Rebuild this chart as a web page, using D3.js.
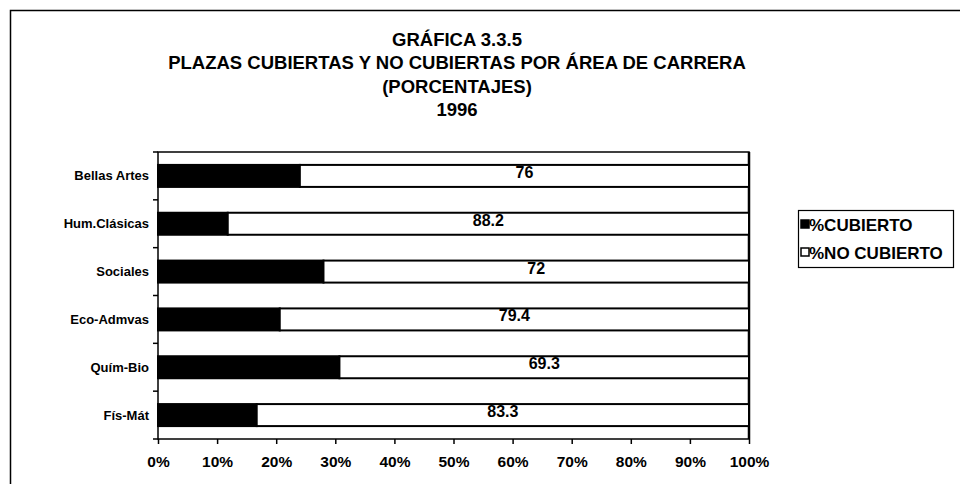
<!DOCTYPE html>
<html><head><meta charset="utf-8">
<script src="https://cdn.jsdelivr.net/npm/d3@7"></script>
<style>body{margin:0;background:#fff}svg{display:block}text{font-family:"Liberation Sans",Arial,sans-serif;font-weight:bold;fill:#000}</style>
</head><body><svg id="c" width="960" height="484"></svg>
<script>
const categories = ["Bellas Artes","Hum.Clásicas","Sociales","Eco-Admvas","Quím-Bio","Fís-Mát"];
const cubierto = [24, 11.8, 28, 20.6, 30.7, 16.7];
const noCubierto = [76, 88.2, 72, 79.4, 69.3, 83.3];
const xTicks = [0,10,20,30,40,50,60,70,80,90,100];
const titleLines = ["GRÁFICA 3.3.5","PLAZAS CUBIERTAS Y NO CUBIERTAS POR ÁREA DE CARRERA","(PORCENTAJES)","1996"];
const seriesNames = ["%CUBIERTO","%NO CUBIERTO"];

const svg = d3.select("#c");
// outer frame
svg.append("path").attr("d","M10.5,490 L10.5,10.5 L970,10.5").attr("fill","none").attr("stroke","#000").attr("stroke-width",1.5);

const titleY = [46,69,93,116];
svg.selectAll("text.title").data(titleLines).join("text").attr("class","title")
  .attr("x",457).attr("y",(d,i)=>titleY[i]).attr("text-anchor","middle").style("font-size","18.5px").text(d=>d);

const L=158, R=749, T=152, B=439;
const x = d3.scaleLinear().domain([0,100]).range([L,R]);
const y = d3.scaleBand().domain(categories).range([T,B]).paddingInner(0.54).paddingOuter(0.27);

const g = svg.append("g");
// plot frame
g.append("rect").attr("x",L).attr("y",T).attr("width",R-L).attr("height",B-T).attr("fill","none").attr("stroke","#000").attr("stroke-width",1.5);
g.append("line").attr("x1",R).attr("x2",R).attr("y1",T).attr("y2",B).attr("stroke","#000").attr("stroke-width",2.5);

const rows = categories.map((c,i)=>({c, a:cubierto[i], b:noCubierto[i]}));
g.selectAll("rect.a").data(rows).join("rect").attr("class","a")
  .attr("x",x(0)).attr("y",d=>y(d.c)).attr("width",d=>x(d.a)-x(0)).attr("height",y.bandwidth())
  .attr("fill","#000").attr("stroke","#000").attr("stroke-width",2);
g.selectAll("rect.b").data(rows).join("rect").attr("class","b")
  .attr("x",d=>x(d.a)).attr("y",d=>y(d.c)).attr("width",d=>x(d.a+d.b)-x(d.a)).attr("height",y.bandwidth())
  .attr("fill","#fff").attr("stroke","#000").attr("stroke-width",2);
g.selectAll("text.va").data(rows).join("text").attr("class","va")
  .attr("x",d=>x(d.a/2)).attr("y",d=>y(d.c)+y.bandwidth()/2+2).attr("text-anchor","middle").style("font-size","16px").text(d=>d.a);
g.selectAll("text.vb").data(rows).join("text").attr("class","vb")
  .attr("x",d=>x(d.a+d.b/2)).attr("y",d=>y(d.c)+y.bandwidth()/2+2).attr("text-anchor","middle").style("font-size","16px").text(d=>d.b);

// y axis
const ya = g.append("g").attr("transform",`translate(${L},0)`)
  .call(d3.axisLeft(y).tickSize(0).tickPadding(9));
ya.select(".domain").remove();
ya.selectAll("text").style("font-size","13px").style("font-family",'"Liberation Sans",Arial,sans-serif').style("font-weight","bold").attr("dy","0.35em");
// band boundary ticks
const bounds = d3.range(categories.length+1).map(i=>T+i*(B-T)/categories.length);
g.selectAll("line.yt").data(bounds).join("line").attr("class","yt")
  .attr("x1",L-5).attr("x2",L).attr("y1",d=>d).attr("y2",d=>d).attr("stroke","#000").attr("stroke-width",1.5);

// x axis
const xa = g.append("g").attr("transform",`translate(0,${B})`)
  .call(d3.axisBottom(x).tickValues(xTicks).tickFormat(d=>d+"%").tickSize(5).tickPadding(12));
xa.select(".domain").remove();
xa.selectAll("line").attr("stroke-width",1.5);
xa.selectAll("text").style("font-size","15.5px").style("font-family",'"Liberation Sans",Arial,sans-serif').style("font-weight","bold");

// legend
const lg = svg.append("g");
lg.append("rect").attr("x",798.5).attr("y",210.5).attr("width",155).attr("height",57).attr("fill","#fff").attr("stroke","#000").attr("stroke-width",1.2);
const lItems = lg.selectAll("g.li").data(seriesNames).join("g").attr("class","li")
  .attr("transform",(d,i)=>`translate(801,${225+i*28})`);
lItems.append("rect").attr("x",0).attr("y",-5).attr("width",8).attr("height",8)
  .attr("fill",(d,i)=>i===0?"#000":"#fff").attr("stroke","#000").attr("stroke-width",1.5);
lItems.append("text").attr("x",8).attr("y",5.5).style("font-size","17px").text(d=>d);
</script></body></html>
